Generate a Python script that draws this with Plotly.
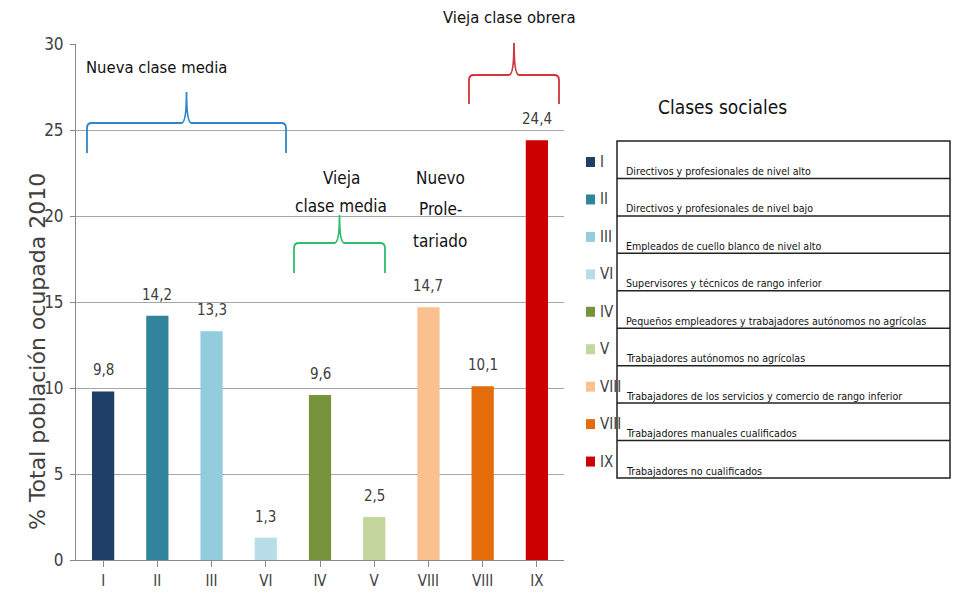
import plotly.graph_objects as go

categories = ["I", "II", "III", "VI", "IV", "V", "VIII", "VIII", "IX"]
values = [9.8, 14.2, 13.3, 1.3, 9.6, 2.5, 14.7, 10.1, 24.4]
value_labels = ["9,8", "14,2", "13,3", "1,3", "9,6", "2,5", "14,7", "10,1", "24,4"]
colors = ["#1F3F66", "#31849B", "#93CDDD", "#B7DEE8", "#77933C", "#C3D69B", "#FAC090", "#E46C0A", "#CC0000"]
descriptions = [
    "Directivos y profesionales de nivel alto",
    "Directivos y profesionales de nivel bajo",
    "Empleados de cuello blanco de nivel alto",
    "Supervisores y técnicos de rango inferior",
    "Pequeños empleadores y trabajadores autónomos no agrícolas",
    "Trabajadores autónomos no agrícolas",
    "Trabajadores de los servicios y comercio de rango inferior",
    "Trabajadores manuales cualificados",
    "Trabajadores no cualificados",
]
y_ticks = [0, 5, 10, 15, 20, 25, 30]

OFF = 8  # page body margin
W, H = 959 - 2 * OFF, 597 - 2 * OFF
L, R, T, B = 76, 564, 44, 560  # plot area in screenshot pixels
FONT = "Liberation Sans Narrow, Arial Narrow, DejaVu Sans Condensed, sans-serif"
FONT2 = "DejaVu Sans Condensed, sans-serif"


def px(x):
    return (x - L) / (R - L)


def py(y):
    return (B - y) / (B - T)


xs = list(range(len(categories)))
fig = go.Figure()
fig.add_trace(go.Bar(
    x=xs, y=values, marker=dict(color=colors, line=dict(width=0)),
    width=0.41, showlegend=False, hoverinfo="x+y",
))

shapes = []
annotations = []

# value labels above bars
for x, v, lab in zip(xs, values, value_labels):
    annotations.append(dict(x=x, y=v, xref="x", yref="y", text=lab, showarrow=False,
                            yanchor="bottom", yshift=10,
                            font=dict(family=FONT, size=15, color="#404040")))


def brace(x0, x1, yh, yend, yapex, color):
    xm = (x0 + x1) / 2
    r = 5
    pts = (
        f"M {px(x0)},{py(yend)} L {px(x0)},{py(yh + r)} "
        f"Q {px(x0)},{py(yh)} {px(x0 + r)},{py(yh)} "
        f"L {px(xm - 5)},{py(yh)} Q {px(xm)},{py(yh)} {px(xm)},{py(yapex)} "
        f"Q {px(xm)},{py(yh)} {px(xm + 5)},{py(yh)} "
        f"L {px(x1 - r)},{py(yh)} Q {px(x1)},{py(yh)} {px(x1)},{py(yh + r)} "
        f"L {px(x1)},{py(yend)}"
    )
    shapes.append(dict(type="path", xref="paper", yref="paper", path=pts,
                       line=dict(color=color, width=1.8)))


brace(87, 286, 123, 153, 92, "#2E86C8")
brace(294, 385, 243, 273, 215, "#2DBE6C")
brace(469, 559, 75, 104, 43, "#D0343C")


def text(x, y, s, size=17, color="#111111", xanchor="center", yanchor="middle", family=FONT, angle=0):
    annotations.append(dict(x=px(x), y=py(y), xref="paper", yref="paper", text=s,
                            showarrow=False, xanchor=xanchor, yanchor=yanchor, textangle=angle,
                            font=dict(family=family, size=size, color=color)))


text(156, 68, "Nueva clase media", 16.5)
text(341, 178, "Vieja", 17)
text(341, 206, "clase media", 17)
text(440, 178, "Nuevo", 17)
text(440, 209, "Prole-", 17)
text(440, 241, "tariado", 17)
text(509, 18, "Vieja clase obrera", 16.5)

# y axis title
text(37, 352, "% Total población ocupada 2010", 22, "#404040",
     family="DejaVu Sans, sans-serif", angle=-90)

# legend table
text(722, 107, "Clases sociales", 19)
top, bottom, left, right = 141, 478, 617, 950
row_h = (bottom - top) / len(categories)
shapes.append(dict(type="rect", xref="paper", yref="paper", x0=px(left), x1=px(right),
                   y0=py(bottom), y1=py(top), line=dict(color="#222222", width=1.5)))
for i, (cat, col, desc) in enumerate(zip(categories, colors, descriptions)):
    rt = top + i * row_h
    if i > 0:
        shapes.append(dict(type="line", xref="paper", yref="paper", x0=px(left), x1=px(right),
                           y0=py(rt), y1=py(rt), line=dict(color="#222222", width=1.5)))
    cy = rt + 21
    shapes.append(dict(type="rect", xref="paper", yref="paper", x0=px(586), x1=px(595),
                       y0=py(cy + 5), y1=py(cy - 5), fillcolor=col, line=dict(width=0)))
    text(598, cy, cat, 15, "#404040", xanchor="left", family=FONT2)
    text(624, rt + 30, desc, 10.6, "#111111", xanchor="left")

fig.update_layout(
    width=W, height=H,
    margin=dict(l=L - OFF, r=W + OFF - R, t=T - OFF, b=H + OFF - B),
    paper_bgcolor="white", plot_bgcolor="white",
    shapes=shapes, annotations=annotations,
    xaxis=dict(tickmode="array", tickvals=xs, ticktext=categories, range=[-0.5, 8.5],
               showline=True, linecolor="#888888", linewidth=1, automargin=False,
               ticks="outside", tickson="boundaries", ticklen=6, tickcolor="#888888",
               ticklabelstandoff=1,
               showgrid=False, zeroline=False,
               tickfont=dict(family=FONT, size=15, color="#404040")),
    yaxis=dict(range=[0, 30], tickvals=y_ticks, showline=True, linecolor="#888888",
               ticks="outside", ticklen=5, tickcolor="#888888", automargin=False,
               ticklabelstandoff=3,
               showgrid=True, gridcolor="#A6A6A6", gridwidth=1, zeroline=False,
               tickfont=dict(family=FONT, size=17, color="#404040")),
)

fig.write_html("out.html")
